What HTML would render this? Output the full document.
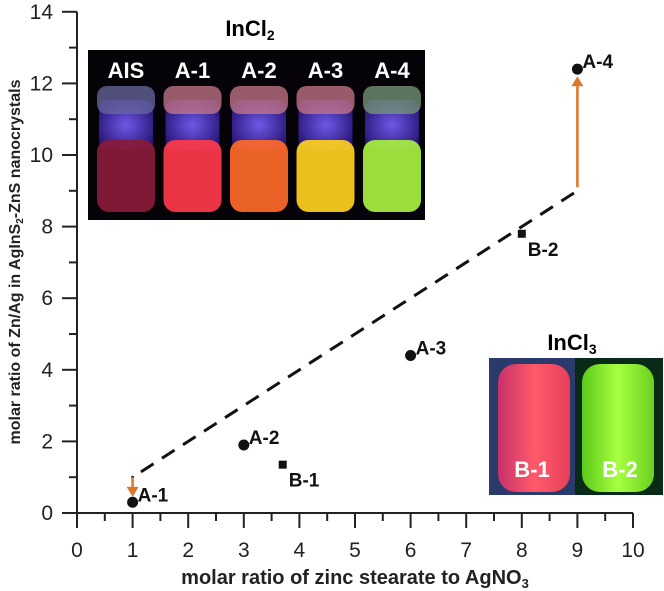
<!DOCTYPE html>
<html><head><meta charset="utf-8"><style>
body{margin:0;background:#fff}
svg{display:block;font-family:"Liberation Sans",sans-serif}
</style></head><body>
<svg id="chart" width="664" height="591" viewBox="0 0 664 591">
<defs>
<radialGradient id="gBlue" cx="0.5" cy="0.5" r="0.6"><stop offset="0" stop-color="#7a62ff"/><stop offset="1" stop-color="#2a1680"/></radialGradient>
<linearGradient id="gB1" x1="0" y1="0" x2="1" y2="0"><stop offset="0" stop-color="#c8306a"/><stop offset="0.5" stop-color="#ff5a6a"/><stop offset="1" stop-color="#e6405a"/></linearGradient>
<linearGradient id="gB2" x1="0" y1="0" x2="1" y2="0"><stop offset="0" stop-color="#5acb1a"/><stop offset="0.5" stop-color="#a8ff40"/><stop offset="1" stop-color="#6ad020"/></linearGradient>
</defs>
<g id="photo-top">
<rect x="88" y="50" width="337" height="170" fill="#050208"/>
</g>
<text x="250" y="36" font-size="22" font-weight="bold" text-anchor="middle">InCl<tspan font-size="14" dy="4">2</tspan></text>
<g id="photo-bottom">
<rect x="489" y="358" width="86" height="137" fill="#2a3a6a"/>
<rect x="575" y="358" width="88" height="137" fill="#0a2a18"/>
<rect x="498" y="364" width="72" height="128" rx="18" fill="url(#gB1)"/>
<rect x="582" y="364" width="72" height="128" rx="18" fill="url(#gB2)"/>
<text x="532" y="477" font-size="22" font-weight="bold" fill="#fff" text-anchor="middle">B-1</text>
<text x="620" y="477" font-size="22" font-weight="bold" fill="#fff" text-anchor="middle">B-2</text>
</g>
<text x="572" y="350" font-size="22" font-weight="bold" text-anchor="middle">InCl<tspan font-size="14" dy="4">3</tspan></text>
<g id="axes"></g>
<g id="marks"></g>
<text transform="translate(20,262) rotate(-90)" font-size="16" font-weight="bold" text-anchor="middle" fill="#222">molar ratio of Zn/Ag in AgInS<tspan font-size="10" dy="3">2</tspan><tspan dy="-3">-ZnS nanocrystals</tspan></text>
<text x="355" y="584" font-size="20" font-weight="bold" text-anchor="middle" fill="#222">molar ratio of zinc stearate to AgNO<tspan font-size="13" dy="4">3</tspan></text>
</svg>
<script>
const vialLabels=["AIS","A-1","A-2","A-3","A-4"];
const vialColors=["#8a1a3a","#ff3a4a","#ff6a2a","#ffd020","#a8f040"];
const pointLabels=["A-1","A-2","A-3","A-4","B-1","B-2"];
const pointX=[1,3,6,9,3.7,8];
const pointY=[0.3,1.9,4.4,12.4,1.35,7.8];
const pointShape=["circle","circle","circle","circle","square","square"];
const trendX=[1.15,9];
const trendY=[1.15,9];
const arrowFromY=[1,9.1];
const arrowToY=[0.45,12.2];
const arrowX=[1,9];
const xTicks=[0,1,2,3,4,5,6,7,8,9,10];
const yTicks=[0,2,4,6,8,10,12,14];

const NS="http://www.w3.org/2000/svg";
const sx=v=>77+55.6*v, sy=v=>513-35.8*v;
function mk(t,a,p){const e=document.createElementNS(NS,t);for(const k in a)e.setAttribute(k,a[k]);p.appendChild(e);return e;}
const ph=document.getElementById('photo-top');
vialLabels.forEach((l,i)=>{
  const x0=93+i*66.5;
  mk('rect',{x:x0+6,y:100,width:54,height:50,rx:8,fill:"url(#gBlue)",opacity:0.9},ph);
  const cap=mk('rect',{x:x0+4,y:86,width:58,height:28,rx:10,fill:i==0?"#6a6aa0":(i==4?"#7a9a7a":"#c87a8a"),opacity:0.75},ph);
  
  const liq=mk('rect',{x:x0+4,y:140,width:58,height:72,rx:12,fill:vialColors[i],opacity:0.92},ph);
  
  const t=mk('text',{x:x0+33,y:78,'font-size':22,'font-weight':'bold',fill:'#fff','text-anchor':'middle'},ph);
  t.textContent=l;
  
});
const ax=document.getElementById('axes');
const xl=mk('line',{x1:62,y1:sy(0),x2:sx(10),y2:sy(0),stroke:'#222','stroke-width':2},ax);

const yl=mk('line',{x1:sx(0),y1:sy(0)+15,x2:sx(0),y2:sy(14),stroke:'#222','stroke-width':2},ax);

xTicks.forEach(v=>{
  mk('line',{x1:sx(v),y1:sy(0),x2:sx(v),y2:sy(0)+15,stroke:'#222','stroke-width':2},ax);
  if(v<10)mk('line',{x1:sx(v+0.5),y1:sy(0),x2:sx(v+0.5),y2:sy(0)+8,stroke:'#222','stroke-width':2},ax);
  const t=mk('text',{x:sx(v),y:557,'font-size':21,'text-anchor':'middle',fill:'#222'},ax);t.textContent=v;
  
});
yTicks.forEach(v=>{
  mk('line',{x1:62,y1:sy(v),x2:sx(0),y2:sy(v),stroke:'#222','stroke-width':2},ax);
  if(v<14)mk('line',{x1:69,y1:sy(v+1),x2:sx(0),y2:sy(v+1),stroke:'#222','stroke-width':2},ax);
  const t=mk('text',{x:53,y:sy(v)+7,'font-size':21,'text-anchor':'end',fill:'#222'},ax);t.textContent=v;
  
});
const mg=document.getElementById('marks');
const tl=mk('line',{x1:sx(trendX[0]),y1:sy(trendY[0]),x2:sx(trendX[1]),y2:sy(trendY[1]),stroke:'#111','stroke-width':3,'stroke-dasharray':'15 10'},mg);

mk('circle',{cx:sx(1),cy:sy(1),r:1.5,fill:'#222'},mg);
arrowX.forEach((x,i)=>{
  const y1=sy(arrowFromY[i]),y2=sy(arrowToY[i]),d=y2>y1?1:-1;
  const l=mk('line',{x1:sx(x),y1:y1,x2:sx(x),y2:y2-d*9,stroke:'#d9782b','stroke-width':2.5},mg);
  
  mk('polygon',{points:`${sx(x)-6},${y2-d*10} ${sx(x)+6},${y2-d*10} ${sx(x)},${y2}`,fill:'#d9782b'},mg);
});
pointLabels.forEach((l,i)=>{
  const x=sx(pointX[i]),y=sy(pointY[i]);
  let m;
  if(pointShape[i]=="circle")m=mk('circle',{cx:x,cy:y,r:5.5,fill:'#111'},mg);
  else m=mk('rect',{x:x-4,y:y-4,width:8,height:8,fill:'#111'},mg);
  
  
  const sq=pointShape[i]=="square";
  const t=mk('text',{x:x+(sq?6:5),y:sq?y+22:y-1,'font-size':19,'font-weight':'bold',fill:'#111'},mg);
  t.textContent=l;
  
});
</script>
</body></html>
